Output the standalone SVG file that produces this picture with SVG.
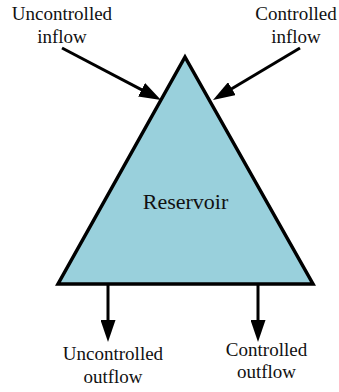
<svg xmlns="http://www.w3.org/2000/svg" width="339" height="392" viewBox="0 0 339 392">
  <style>
    .label { font-family: "Liberation Serif", "Times New Roman", serif; font-size: 19px; fill: #111; text-anchor: middle; }
    .title { font-size: 22px; }
    .flow { stroke: #000; stroke-width: 3; fill: none; marker-end: url(#arrow); }
  </style>
  <defs>
    <!-- arrowhead: 22 long, 15 wide; line end sits 12 units behind the tip -->
    <marker id="arrow" viewBox="0 0 22 15" refX="10" refY="7.5" markerWidth="22" markerHeight="15" orient="auto" markerUnits="userSpaceOnUse">
      <path d="M0,0 L22,7.5 L0,15 z" fill="#000"/>
    </marker>
  </defs>
  <rect width="339" height="392" fill="#fff"/>

  <g id="reservoir">
    <polygon points="185,57 313,284 58,284" fill="#99D0DC" stroke="#000" stroke-width="3.5" stroke-linejoin="miter"/>
    <text class="label title" x="185.5" y="209">Reservoir</text>
  </g>

  <g id="uncontrolled-inflow">
    <text class="label" x="62" y="20">Uncontrolled</text>
    <text class="label" x="62" y="43">inflow</text>
  </g>
  <g id="controlled-inflow">
    <text class="label" x="296" y="20">Controlled</text>
    <text class="label" x="296" y="43">inflow</text>
  </g>
  <g id="uncontrolled-outflow">
    <text class="label" x="113" y="360">Uncontrolled</text>
    <text class="label" x="113" y="383">outflow</text>
  </g>
  <g id="controlled-outflow">
    <text class="label" x="266.5" y="356">Controlled</text>
    <text class="label" x="266.5" y="378">outflow</text>
  </g>

  <g id="connectors">
    <line class="flow" x1="62" y1="48" x2="150.4" y2="94.4"/>
    <line class="flow" x1="300" y1="48" x2="223.3" y2="93.8"/>
    <line class="flow" x1="108" y1="285" x2="108" y2="330"/>
    <line class="flow" x1="258" y1="285" x2="258" y2="330"/>
  </g>
</svg>
